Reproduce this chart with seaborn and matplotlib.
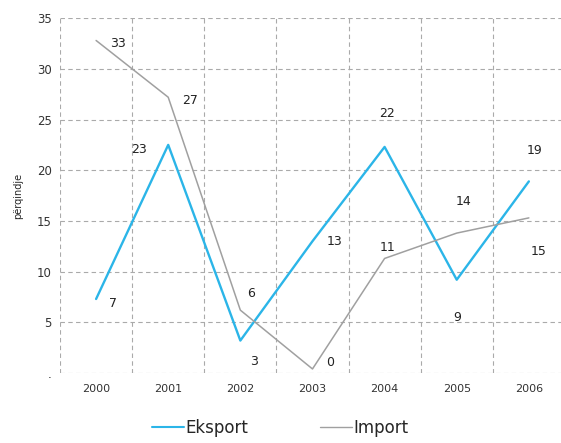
import matplotlib
matplotlib.use("Agg")
import matplotlib.pyplot as plt
import pandas as pd
import seaborn as sns

years = ["2000", "2001", "2002", "2003", "2004", "2005", "2006"]
eksport = [7.3, 22.5, 3.2, 13.0, 22.3, 9.2, 18.9]
importi = [32.8, 27.2, 6.2, 0.4, 11.3, 13.8, 15.3]
eksport_labels = ["7", "23", "3", "13", "22", "9", "19"]
import_labels = ["33", "27", "6", "0", "11", "14", "15"]
yticks = [0, 5, 10, 15, 20, 25, 30, 35]
ytick_labels = [".", "5", "10", "15", "20", "25", "30", "35"]

# label offsets (points) relative to each point
eks_off = [(12, -3), (-21, -3), (10, -15), (16, 0), (2, 24), (0, -27), (4, 22)]
imp_off = [(16, -2), (16, -2), (8, 12), (13, 5), (2, 8), (5, 23), (7, -24)]


def main():
    df = pd.DataFrame({
        "year": years * 2,
        "value": eksport + importi,
        "series": ["Eksport"] * len(years) + ["Import"] * len(years),
    })

    sns.set_style("white")
    fig = plt.figure(figsize=(5.61, 4.43), dpi=100)
    ax = fig.add_axes([0.107, 0.158, 0.9, 0.801])

    palette = {"Eksport": "#2bb5e8", "Import": "#a0a0a0"}
    sns.lineplot(data=df, x="year", y="value", hue="series", palette=palette,
                 sort=False, ax=ax, legend=False)
    ax.lines[0].set_linewidth(1.7)
    ax.lines[1].set_linewidth(1.1)

    ax.set_xlim(-0.5, len(years) - 0.5)
    ax.set_ylim(0, 35)
    ax.set_yticks(yticks)
    ax.set_yticklabels(ytick_labels, fontsize=8.5, color="#333333")
    ax.set_xticks(range(len(years)))
    ax.set_xticklabels(years, fontsize=8, color="#333333")
    ax.set_xticks([i - 0.5 for i in range(len(years) + 1)], minor=True)
    ax.tick_params(axis="x", which="major", length=0, pad=8)
    ax.tick_params(axis="x", which="minor", length=4, direction="inout", color="#888888")
    ax.tick_params(axis="y", length=0, pad=6)

    ax.grid(False)
    ax.yaxis.grid(True, which="major", linestyle=(0, (4, 3)), color="#aaaaaa", linewidth=0.8)
    ax.xaxis.grid(True, which="minor", linestyle=(0, (4, 3)), color="#aaaaaa", linewidth=0.8)
    for s in ax.spines.values():
        s.set_visible(False)

    ax.set_xlabel("")
    ax.set_ylabel("përqindje", fontsize=7, labelpad=10)

    for i, (v, lab) in enumerate(zip(eksport, eksport_labels)):
        ax.annotate(lab, (i, v), xytext=eks_off[i], textcoords="offset points",
                    fontsize=9, color="#222222", ha="center", va="center")
    for i, (v, lab) in enumerate(zip(importi, import_labels)):
        ax.annotate(lab, (i, v), xytext=imp_off[i], textcoords="offset points",
                    fontsize=9, color="#222222", ha="center", va="center")

    handles = [plt.Line2D([], [], color=palette["Eksport"], lw=1.5),
               plt.Line2D([], [], color=palette["Import"], lw=1.0)]
    fig.legend(handles, ["Eksport", "Import"], loc="lower center",
               bbox_to_anchor=(0.5, -0.02), ncol=2, frameon=False,
               fontsize=12, handlelength=1.9, handletextpad=0.1, columnspacing=4.3)

    fig.savefig("out.png", dpi=100)
    plt.close(fig)


if __name__ == "__main__":
    main()
